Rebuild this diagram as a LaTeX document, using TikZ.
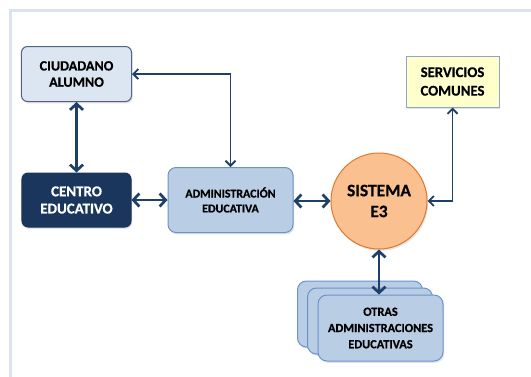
\documentclass[tikz,border=0pt]{standalone}
\usepackage{fontspec}
\setmainfont{Carlito}[BoldFeatures={FakeBold=0.6}]
\usetikzlibrary{arrows.meta,shapes.geometric,shadows}
\definecolor{arrowc}{HTML}{1F3F6B}
\definecolor{framec}{HTML}{DCE3EF}
\definecolor{ciudfill}{HTML}{DCE6F2}
\definecolor{ciuddraw}{HTML}{52647F}
\definecolor{servfill}{HTML}{FFFFCC}
\definecolor{servdraw}{HTML}{8CA5C8}
\definecolor{centrofill}{HTML}{1B365D}
\definecolor{adminfill}{HTML}{B9CDE5}
\definecolor{admindraw}{HTML}{6A93CC}
\definecolor{sisfill}{HTML}{FAC08F}
\definecolor{sisdraw}{HTML}{E2782A}
\tikzset{
  softshadow/.style={drop shadow={opacity=0.22, shadow xshift=1.2bp, shadow yshift=-1.8bp}},
  box/.style={rectangle, rounded corners=6bp, line width=1bp, align=center, inner sep=2bp, softshadow},
  ciudbox/.style={box, draw=ciuddraw, fill=ciudfill, minimum width=110bp, minimum height=55bp, font=\fontsize{14.2}{16.3}\selectfont\bfseries},
  centrobox/.style={box, draw=centrofill, fill=centrofill, text=white, minimum width=109bp, minimum height=54bp, font=\fontsize{15}{17.3}\selectfont\bfseries},
  adminbox/.style={box, draw=admindraw, fill=adminfill, rounded corners=8bp, minimum width=125bp, minimum height=65bp, font=\fontsize{12}{15}\selectfont\bfseries},
  servbox/.style={box, rounded corners=0bp, draw=servdraw, fill=servfill, minimum width=93bp, minimum height=51bp, font=\fontsize{14.8}{18.6}\selectfont\bfseries},
  sisnode/.style={circle, draw=sisdraw, fill=sisfill, line width=1bp, minimum size=96bp, align=center, inner sep=0bp, softshadow, font=\fontsize{17.5}{21}\selectfont\bfseries},
  otrabox/.style={box, draw=admindraw, fill=adminfill, rounded corners=9bp, minimum width=125bp, minimum height=66bp, font=\fontsize{12.4}{16.3}\selectfont\bfseries},
  bigarrow/.style={draw=arrowc, line width=2.7bp, {Straight Barb[length=6bp,width=13bp]}-{Straight Barb[length=6bp,width=13bp]}},
  thinarrow/.style={draw=arrowc, line width=1.9bp, {Straight Barb[length=5bp,width=10bp]}-{Straight Barb[length=5bp,width=10bp]}},
}
\begin{document}
\begin{tikzpicture}[x=1bp,y=-1bp]
\useasboundingbox (0,0) rectangle (531,376);
\fill[white] (0,0) rectangle (531,376);
% frame
\draw[framec, line width=3bp] (10.5,380) -- (10.5,10) -- (535,10);
% nodes
\node[ciudbox] (ciud) at (76.5,74) {CIUDADANO\\ALUMNO};
\node[centrobox] (centro) at (76.5,200) {CENTRO\\EDUCATIVO};
\node[adminbox] (admin) at (230.5,200) {ADMINISTRACIÓN\\EDUCATIVA};
\node[sisnode] (sis) at (379,201) {SISTEMA\\E3};
\node[servbox] (serv) at (452.5,81.5) {SERVICIOS\\COMUNES};
\node[otrabox] (o1) at (360,314) {};
\node[otrabox] (o2) at (370,321) {};
\node[otrabox] (o3) at (380.5,328) {OTRAS\\ADMINISTRACIONES\\EDUCATIVAS};
% connectors
\draw[bigarrow] (ciud.south) -- (centro.north);
\draw[thinarrow] (admin.north) |- (ciud.east);
\draw[bigarrow] (centro.east) -- (centro.east -| admin.west);
\draw[bigarrow] (admin.east |- sis.west) -- (sis.west);
\draw[thinarrow] (sis.east) -| (serv.south);
\draw[bigarrow] (sis.south) -- (sis.south |- o3.north);
\end{tikzpicture}
\end{document}
